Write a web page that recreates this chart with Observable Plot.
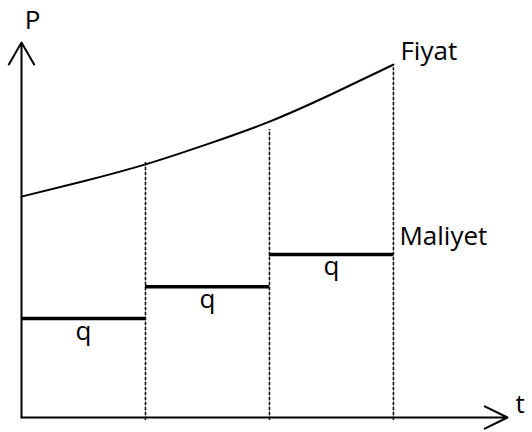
<!DOCTYPE html>
<html>
<head>
<meta charset="utf-8">
<script src="https://cdn.jsdelivr.net/npm/d3@7"></script>
<script src="https://cdn.jsdelivr.net/npm/@observablehq/plot@0.6"></script>
<style>
  html, body { margin: 0; padding: 0; background: #fff; }
</style>
</head>
<body>
<div id="chart"></div>
<script>
// Axis extents (t = time periods, P = price level, arbitrary units)
const tMax = 3.92;
const pMax = 10;

// Price curve "Fiyat" read at half-period steps
const fiyatT = [0, 0.5, 1, 1.5, 2, 2.5, 3];
const fiyatP = [5.89, 6.3, 6.75, 7.29, 7.89, 8.62, 9.41];

// Period boundaries and the height of the dashed dividers
const boundaries = [1, 2, 3];
const dividerTops = [6.8, 7.68, 9.33];

// Cost steps "Maliyet" per period
const periodStart = [0, 1, 2];
const periodEnd = [1, 2, 3];
const maliyet = [2.64, 3.49, 4.35];
const qLabels = ["q", "q", "q"];

const fiyat = fiyatT.map((t, i) => ({t, p: fiyatP[i]}));
const dividers = boundaries.map((t, i) => ({t, top: dividerTops[i]}));
const steps = periodStart.map((s, i) => ({s, e: periodEnd[i], m: maliyet[i], mid: (s + periodEnd[i]) / 2, label: qLabels[i]}));

const font = "'Open Sans', sans-serif";

const chart = Plot.plot({
  width: 532,
  height: 432,
  marginLeft: 21,
  marginRight: 25,
  marginTop: 42,
  marginBottom: 15,
  x: {domain: [0, tMax], axis: null},
  y: {domain: [0, pMax], axis: null},
  style: {fontFamily: font, background: "#fff"},
  marks: [
    // dashed period dividers (grey line with dark dashes)
    Plot.ruleX(dividers, {x: "t", y1: -0.08, y2: "top", stroke: "#999", strokeWidth: 1.2}),
    Plot.ruleX(dividers, {x: "t", y1: -0.08, y2: "top", stroke: "#111", strokeWidth: 1.5, strokeDasharray: "3,2"}),
    // cost steps
    Plot.ruleY(steps, {y: "m", x1: "s", x2: "e", stroke: "#000", strokeWidth: 3.5}),
    Plot.text(steps, {x: "mid", y: "m", text: "label", dy: 21, lineAnchor: "bottom", fontSize: 26, fill: "#000"}),
    // price curve
    Plot.line(fiyat, {x: "t", y: "p", curve: "natural", stroke: "#000", strokeWidth: 2}),
    // axes with arrowheads
    Plot.arrow([{x1: 0, y1: 0, x2: 0, y2: pMax}], {x1: "x1", y1: "y1", x2: "x2", y2: "y2", stroke: "#000", strokeWidth: 2, headLength: 19, headAngle: 60, bend: 0}),
    Plot.arrow([{x1: 0, y1: 0, x2: tMax, y2: 0}], {x1: "x1", y1: "y1", x2: "x2", y2: "y2", stroke: "#000", strokeWidth: 2, headLength: 19, headAngle: 52, bend: 0}),
    // labels
    Plot.text([{x: 0, y: pMax, s: "P"}], {x: "x", y: "y", text: "s", dx: 11, dy: -14, lineAnchor: "bottom", textAnchor: "middle", fontSize: 26, fill: "#000"}),
    Plot.text([{x: tMax, y: 0, s: "t"}], {x: "x", y: "y", text: "s", dx: 8, dy: -5, lineAnchor: "bottom", textAnchor: "start", fontSize: 26, fill: "#000"}),
    Plot.text([{x: 3, y: fiyatP[fiyatP.length - 1], s: "Fiyat"}], {x: "x", y: "y", text: "s", dx: 7, dy: -5, lineAnchor: "bottom", textAnchor: "start", fontSize: 26, fill: "#000"}),
    Plot.text([{x: 3, y: maliyet[maliyet.length - 1], s: "Maliyet"}], {x: "x", y: "y", text: "s", dx: 6, dy: -9, lineAnchor: "bottom", textAnchor: "start", fontSize: 26, fill: "#000"})
  ]
});
document.getElementById("chart").appendChild(chart);
</script>
</body>
</html>
